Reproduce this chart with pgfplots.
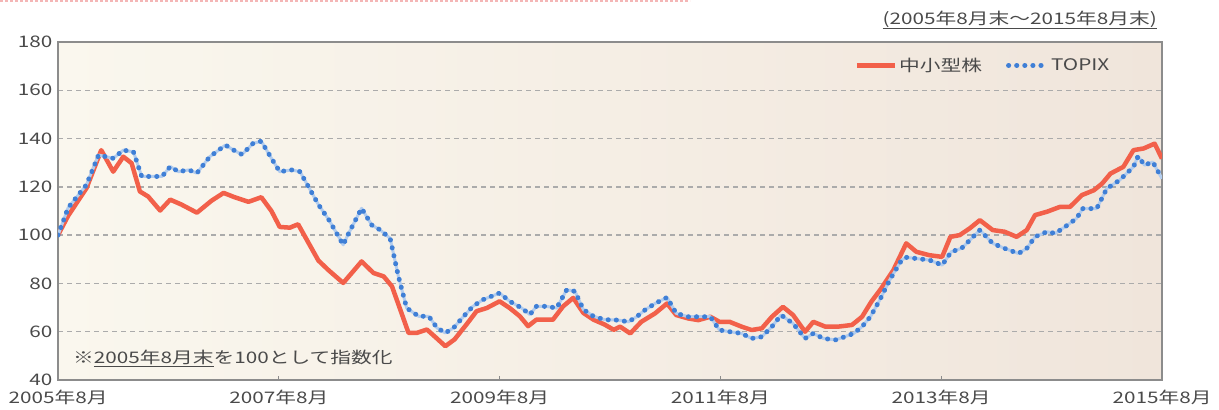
\documentclass[border=0pt]{standalone}
\usepackage{fontspec}
\setmainfont{Noto Sans CJK JP}[FakeStretch=1.3]
\usepackage{pgfplots}
\pgfplotsset{compat=1.18}
\usepackage{pgfplotstable}
\definecolor{txt}{HTML}{4A4A4A}
\definecolor{redl}{HTML}{F2604A}
\definecolor{bluel}{HTML}{3F7FD6}
\definecolor{bluehalo}{HTML}{B3CDEE}
\definecolor{bgL}{HTML}{FAF7EE}
\definecolor{bgR}{HTML}{F0E5DB}
\definecolor{gridc}{HTML}{ABABAB}
\definecolor{axc}{HTML}{8C8C8C}
\definecolor{pinkl}{HTML}{F4B6B6}

\pgfplotstableread{
m v
0 100
1.1 108
3.1 119.5
4.7 135.2
6.0 126.3
7.1 132.5
8.0 129.8
8.9 118.1
9.8 116
11.1 110.2
12.2 114.7
13.4 112.7
15.1 109.3
16.7 114.3
18.0 117.5
19.2 115.7
20.7 113.8
22.1 115.7
23.2 110
24.1 103.4
25.2 103.1
26.1 104.5
27.2 97
28.3 89.5
29.4 85.5
31.0 80.2
33.0 89.1
34.3 84.3
35.4 82.9
36.3 78.8
37.2 69.2
38.1 59.5
39.0 59.5
40.1 60.9
41.1 57.5
42.1 54
43.1 56.8
44.4 63
45.5 68.5
46.6 69.8
48.0 72.6
49.1 69.8
50.2 66.4
51.1 62.3
52.0 65
53.8 65
54.9 70.5
56.0 74
57.1 67.8
58.2 65
59.4 63
60.4 60.8
61.1 62.1
62.2 59.3
63.4 64.1
64.9 67.6
66.2 71.7
67.2 66.9
68.5 65.5
69.6 64.8
70.9 66.2
71.9 64.1
73.0 64.1
74.3 62.1
75.4 60.7
76.5 61.4
77.6 66.2
78.8 70.3
79.9 66.9
81.2 60
82.1 64.1
83.4 62.1
84.8 62.1
86.3 62.8
87.4 66.2
88.4 72.4
89.4 77.5
90.8 85.5
92.2 96.6
93.3 93.1
94.7 91.7
96.1 91
97.0 99.3
98.0 100
99.1 102.8
100.2 106.2
101.6 102.1
102.9 101.4
104.2 99.3
105.3 102.1
106.2 108.3
107.5 109.7
108.9 111.7
110.0 111.7
111.3 116.6
112.6 118.6
113.5 121.4
114.4 125.5
115.8 128.3
116.9 135.2
118.0 135.9
119.2 137.9
120 131.7
}\smallcap

\pgfplotstableread{
m v
0 100
1.1 111.3
3.1 120.9
4.4 133.2
6.0 131.8
7.1 135.2
8.2 134.5
9.1 124.3
10.2 124.3
11.3 124.3
12.2 128.4
13.1 126.3
14.2 127
15.1 125.7
16.5 132.5
18.2 137.3
19.1 135.2
20.0 133.4
21.2 138
22.1 138.9
23.2 131.8
24.1 126.3
25.4 127
26.3 126.3
27.2 120.2
28.3 112.7
29.5 106
31.0 96
31.6 100.8
33.0 111.1
34.1 104.2
35.0 102.2
36.1 98.7
37.0 82.9
37.9 69.8
39.2 66.4
40.3 66.4
41.2 61.6
42.1 59.5
43.0 61.6
44.1 66.4
45.1 70.5
46.2 73.3
48.0 76
49.1 72.6
50.4 69.8
51.3 67.1
52.0 70.5
53.1 70.5
54.2 69.8
55.3 77.4
56.2 76.7
57.1 69.2
58.2 66.4
59.4 65
60.9 64.8
62.0 64.1
62.9 66.2
63.8 69
64.9 71.7
66.2 74.2
67.2 67.6
68.5 66.2
69.8 66.2
70.9 66.2
71.9 60.7
73.0 60
74.3 59.3
75.4 57.2
76.5 57.9
77.6 62.1
78.6 66.9
79.9 63.4
81.2 57.2
82.1 59.3
83.2 57.2
84.5 56.6
85.5 57.9
86.5 59.3
87.4 62.1
88.3 66.2
89.3 73
90.4 81.4
91.7 89.7
92.2 90.8
93.3 90.3
94.7 89.7
96.1 87.6
97.1 93.1
98.2 94.5
99.1 97.9
100.2 102.1
101.6 96.6
102.9 94.5
104.4 92.4
105.3 94.5
106.2 99.3
107.5 101.4
108.4 100.7
109.7 104.1
110.7 106.9
111.4 111
112.9 111
114.0 119.3
115.4 122.8
116.9 128.3
117.4 132.7
118.1 129
119.0 130.3
120 123.4
}\topix

\begin{document}
\begin{tikzpicture}
\begin{axis}[
  at={(58bp,30bp)}, anchor=south west,
  scale only axis, width=1104bp, height=338bp,
  xmin=0, xmax=120, ymin=40, ymax=180,
  xtick={0,24,48,72,96,120},
  xticklabels={2005年8月,2007年8月,2009年8月,2011年8月,2013年8月,2015年8月},
  ytick={40,60,...,180},
  /pgf/number format/assume math mode=true,
  ymajorgrids,
  grid style={gridc, line width=1.5bp, dash pattern=on 5bp off 4bp},
  axis line style={axc, line width=1.8bp},
  tick align=inside,
  xtick style={axc, line width=1bp},
  major tick length=4bp,
  ytick style={draw=none},
  xtick pos=bottom, ytick pos=left,
  xticklabel style={font=\fontsize{16}{16}\selectfont, text=txt, yshift=-7bp},
  yticklabel style={font=\fontsize{16}{16}\selectfont, text=txt, xshift=-2bp},
  axis background/.style={left color=bgL, right color=bgR},
  legend style={at={(0.957,0.965)}, anchor=north east, draw=none, fill=none,
    font=\fontsize{16}{16}\selectfont, text=txt,
    /tikz/every even column/.append style={column sep=22bp}},
  legend columns=2,
  legend image code/.code={\draw[#1] (0bp,0bp) -- (38bp,0bp);},
]
\addplot[redl, line width=4.5bp, line join=round] table[x=m,y=v]{\smallcap};
\addlegendentry{中小型株}
\addplot[bluehalo, line width=3bp, line join=round, forget plot] table[x=m,y=v]{\topix};
\addplot[bluel, line width=5bp, line cap=round, line join=round, dash pattern=on 0.1bp off 8bp] table[x=m,y=v]{\topix};
\addlegendentry{TOPIX}
\end{axis}
\node[anchor=east, text=txt, font=\fontsize{16}{16}\selectfont, inner sep=0pt] at (1157bp,390bp) {\underline{(2005年8月末〜2015年8月末)}};
\node[anchor=west, text=txt, font=\fontsize{16}{16}\selectfont, inner sep=0pt] at (73bp,52bp) {※\underline{2005年8月末}を100として指数化};
\draw[pinkl, line width=1.5bp, dash pattern=on 3bp off 2bp] (0bp,409bp) -- (690bp,409bp);
\pgfresetboundingbox
\useasboundingbox (0bp,0bp) rectangle (1219bp,410bp);
\end{tikzpicture}
\end{document}
